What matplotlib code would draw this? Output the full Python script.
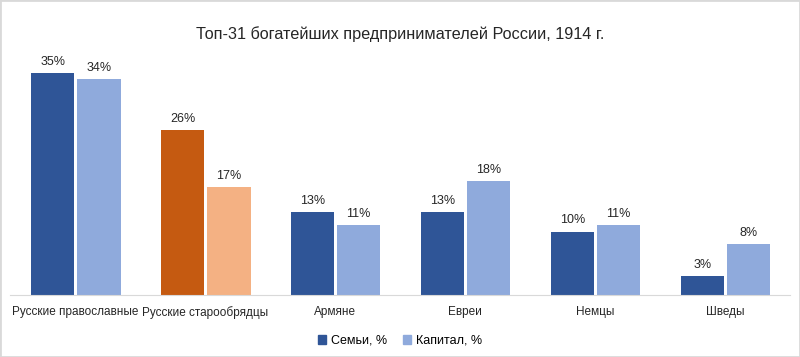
import numpy as np
import matplotlib
matplotlib.use("Agg")
import matplotlib.pyplot as plt
from matplotlib.patches import Patch, Rectangle

categories = ["Русские православные", "Русские старообрядцы", "Армяне", "Евреи", "Немцы", "Шведы"]
families = [35, 26, 13, 13, 10, 3]
capital = [34, 17, 11, 18, 11, 8]
fam_colors = ["#2F5597", "#C55A11", "#2F5597", "#2F5597", "#2F5597", "#2F5597"]
cap_colors = ["#8FAADC", "#F4B183", "#8FAADC", "#8FAADC", "#8FAADC", "#8FAADC"]

plt.rcParams['font.family'] = ['Liberation Sans', 'DejaVu Sans']

fig = plt.figure(figsize=(8, 3.57), dpi=100)
ax = fig.add_axes([0.0125, 0.1737, 0.975, 0.658])

x = np.arange(len(categories))
w = 0.335
gap = 0.01
b1 = ax.bar(x - w / 2 - gap + 0.005, families, w, color=fam_colors)
b2 = ax.bar(x + w / 2 + gap + 0.005, capital, w, color=cap_colors)

for bars, vals in ((b1, families), (b2, capital)):
    for rect, v in zip(bars, vals):
        ax.text(rect.get_x() + rect.get_width() / 2, v + 0.8, f"{v}%",
                ha='center', va='bottom', fontsize=9, color='#262626')

ax.set_xlim(-0.5, len(categories) - 0.5)
ax.set_ylim(0, 37)
ax.set_yticks([])
ax.set_xticks(x)
ax.set_xticklabels(categories, fontsize=8.5, color='#262626')
ax.tick_params(axis='x', length=0, pad=8)
for s in ('top', 'right', 'left'):
    ax.spines[s].set_visible(False)
ax.spines['bottom'].set_color('#d9d9d9')

fig.text(0.5, 0.905, "Топ-31 богатейших предпринимателей России, 1914 г.",
         ha='center', va='center', fontsize=11.7, color='#262626')

handles = [Patch(color="#2F5597", label="Семьи, %"), Patch(color="#8FAADC", label="Капитал, %")]
fig.legend(handles=handles, loc='center', bbox_to_anchor=(0.5, 0.045), ncol=2,
           frameon=False, fontsize=9, handlelength=0.7, handleheight=0.7,
           handletextpad=0.4, columnspacing=1.2)

fig.patches.append(Rectangle((0, 0), 1, 1, transform=fig.transFigure, fill=False,
                             edgecolor='#d9d9d9', linewidth=2))

fig.savefig("out.png", dpi=100)
